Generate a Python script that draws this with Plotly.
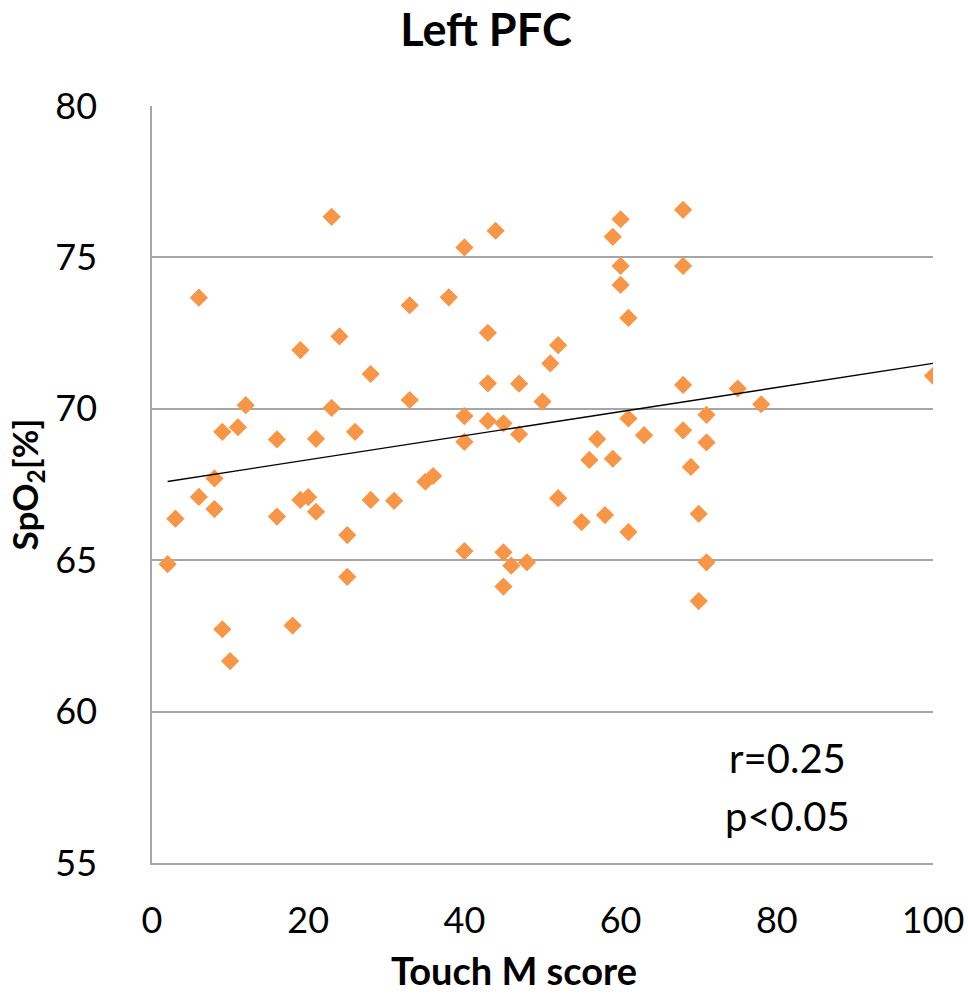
import plotly.graph_objects as go

touch_m = [2, 3, 6, 6, 8, 8, 9, 9, 10, 11, 12, 16, 16, 18, 19, 19, 20, 21, 21, 23, 23, 24, 25, 25, 26,
           28, 28, 31, 33, 33, 35, 36, 38, 40, 40, 40, 40, 43, 43, 43, 44, 45, 45, 45, 46, 47, 47, 48,
           50, 51, 52, 52, 55, 56, 57, 58, 59, 59, 60, 60, 60, 61, 61, 61, 63, 68, 68, 68, 68, 69, 70,
           70, 71, 71, 71, 75, 78, 100]
spo2 = [64.87, 66.37, 73.67, 67.09, 67.70, 66.69, 69.24, 62.72, 61.67, 69.39, 70.12, 68.99, 66.44,
        62.84, 71.94, 66.99, 67.08, 69.01, 66.60, 76.34, 70.03, 72.39, 65.83, 64.45, 69.24, 71.15,
        66.99, 66.96, 73.42, 70.29, 67.59, 67.78, 73.68, 75.33, 69.76, 68.91, 65.30, 72.51, 70.84,
        69.60, 75.88, 69.52, 65.26, 64.13, 64.82, 70.83, 69.16, 64.93, 70.24, 71.50, 72.10, 67.05,
        66.26, 68.31, 69.00, 66.49, 75.68, 68.35, 76.26, 74.72, 74.09, 73.00, 69.68, 65.93, 69.13,
        76.57, 74.72, 70.79, 69.29, 68.08, 66.53, 63.65, 69.80, 68.89, 64.93, 70.67, 70.15, 71.09]

trend_x = [2, 100]
trend_y = [67.6, 71.5]

x_ticks = [0, 20, 40, 60, 80, 100]
y_ticks = [55, 60, 65, 70, 75, 80]

stats_lines = ["r=0.25", "p<0.05"]

FONT = "Lato, 'Open Sans', sans-serif"

fig = go.Figure()
fig.add_trace(go.Scatter(
    x=touch_m, y=spo2, mode="markers",
    marker=dict(symbol="diamond", size=14, color="#F79646", line=dict(width=0)),
    showlegend=False, hoverinfo="x+y"))
fig.add_trace(go.Scatter(
    x=trend_x, y=trend_y, mode="lines",
    line=dict(color="black", width=1.4),
    showlegend=False, hoverinfo="skip"))

fig.update_layout(
    width=968, height=996,
    margin=dict(l=152, r=35, t=106, b=133),
    paper_bgcolor="white", plot_bgcolor="white",
    font=dict(family=FONT, color="black"),
    title=dict(text="<b>Left PFC</b>", x=0.502, xanchor="center", xref="container",
               y=0.970, yanchor="middle", yref="container",
               font=dict(size=45, family=FONT, color="black")),
    xaxis=dict(range=[0, 100], tickvals=x_ticks, ticktext=[str(v) for v in x_ticks],
               showgrid=False, zeroline=False, showline=True, linecolor="#A6A6A6", linewidth=1.5,
               ticks="", tickfont=dict(size=36, family=FONT), ticklabelstandoff=25, automargin=False),
    yaxis=dict(range=[55, 80], tickvals=y_ticks, ticktext=[str(v) for v in y_ticks],
               showgrid=True, gridcolor="#A6A6A6", gridwidth=1.5, zeroline=False,
               showline=True, linecolor="#A6A6A6", linewidth=1.5, automargin=False,
               ticks="", tickfont=dict(size=36, family=FONT), ticklabelstandoff=46,
               title=dict(text="<b>SpO<sub>2</sub>[%]</b>", font=dict(size=35, family=FONT), standoff=6)),
)

# x-axis title (offset left of plot centre as in the reference)
fig.add_annotation(text="<b>Touch M score</b>", x=0.4635, y=-0.141, xref="paper", yref="paper",
                   showarrow=False, xanchor="center", yanchor="middle",
                   font=dict(size=38, family=FONT, color="black"))

for i, txt in enumerate(stats_lines):
    fig.add_annotation(text=txt, x=81.4, y=0.139 - i * 0.0766, xref="x", yref="paper",
                       showarrow=False, xanchor="center", yanchor="middle",
                       font=dict(size=40, family=FONT, color="black"))

fig.write_html("out.html")
